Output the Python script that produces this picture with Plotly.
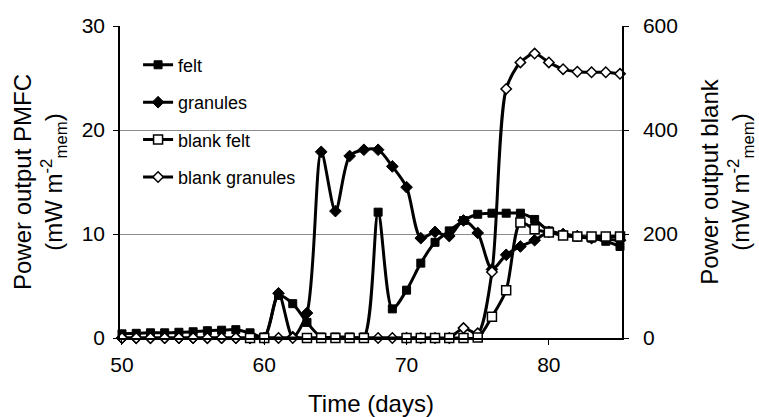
import plotly.graph_objects as go

# Sampling days
days = list(range(50, 86))

# PMFC power output (left axis, mW m-2 membrane)
felt = [0.4, 0.45, 0.5, 0.5, 0.55, 0.6, 0.7, 0.75, 0.8, 0.5,
        0.1, 4.1, 3.3, 1.5, 0.1, 0.1, 0.1, 0.1, 12.1, 2.8,
        4.6, 7.2, 9.2, 10.3, 11.3, 11.9, 12.0, 12.0, 12.0, 11.4,
        10.3, 9.9, 9.7, 9.6, 9.3, 8.8]
granules = [0, 0, 0, 0, 0, 0, 0, 0, 0, 0,
            0, 4.3, 0.1, 2.4, 17.9, 12.2, 17.5, 18.1, 18.1, 16.5,
            14.5, 9.6, 10.2, 9.8, 11.3, 10.1, 6.6, 8.0, 8.8, 9.4,
            10.2, 10.0, 9.8, 9.6, 9.5, 9.4]

# Blank power output (right axis, mW m-2 membrane)
blank_felt_days = [59, 60, 63, 64, 65, 66, 67, 70, 71, 72, 73, 74, 75, 76,
                   77, 78, 79, 80, 81, 82, 83, 84, 85]
blank_felt = [0, 0, 0, 0, 0, 0, 0, 0, 0, 0, 0, 0, 1, 41,
              92, 222, 209, 203, 197, 195, 195, 195, 195]
blank_gran_days = [50, 51, 52, 53, 54, 55, 56, 57, 58, 59, 61, 62,
                   68, 69, 70, 71, 72, 73, 74, 75, 76, 77, 78, 79, 80,
                   81, 82, 83, 84, 85]
blank_granules = [0, 0, 0, 0, 0, 0, 0, 0, 0, 0, 0, 0,
                  0, 0, 0, 0, 0, 0, 19, 9, 127, 479, 530, 547, 530,
                  517, 512, 511, 511, 508]

x_ticks = [50, 60, 70, 80]
left_ticks = [0, 10, 20, 30]
right_ticks = [0, 200, 400, 600]

FONT = "Liberation Sans, Arial, sans-serif"
LINE = dict(color="black", width=3, shape="spline", smoothing=0.8)

fig = go.Figure()
fig.add_trace(go.Scatter(
    x=days, y=felt, name="felt", mode="lines+markers", legendgroup="a",
    legendrank=1, line=LINE, cliponaxis=False,
    marker=dict(symbol="square", size=8, color="black",
                line=dict(color="black", width=1))))
fig.add_trace(go.Scatter(
    x=days, y=granules, name="granules", mode="lines+markers", legendgroup="b",
    legendrank=2, line=LINE, cliponaxis=False,
    marker=dict(symbol="diamond", size=9, color="black",
                line=dict(color="black", width=1))))
# blank granules sits underneath the blank felt squares
fig.add_trace(go.Scatter(
    x=blank_gran_days, y=blank_granules, name="blank granules",
    mode="lines+markers", legendgroup="d", legendrank=4, yaxis="y2",
    line=LINE, cliponaxis=False,
    marker=dict(symbol="diamond", size=8, color="white",
                line=dict(color="black", width=1.5))))
fig.add_trace(go.Scatter(
    x=blank_felt_days, y=blank_felt, name="blank felt", mode="lines+markers",
    legendgroup="c", legendrank=3, yaxis="y2", line=LINE, cliponaxis=False,
    marker=dict(symbol="square", size=9, color="white",
                line=dict(color="black", width=1.5))))

fig.update_layout(
    width=759, height=417,
    margin=dict(l=120, r=137, t=26, b=79),
    paper_bgcolor="white", plot_bgcolor="white",
    font=dict(family=FONT, color="black", size=21),
    showlegend=True,
    legend=dict(x=0.036, y=0.934, xanchor="left", yanchor="top",
                bgcolor="rgba(0,0,0,0)", borderwidth=0,
                font=dict(size=18, family=FONT),
                traceorder="grouped", tracegroupgap=11),
    xaxis=dict(range=[49.86, 85.14], tickvals=x_ticks, automargin=False,
               ticks="outside", ticklen=5, tickcolor="black",
               ticklabelstandoff=2,
               showline=True, linecolor="black", linewidth=1.5,
               showgrid=False, zeroline=False,
               tickfont=dict(size=21),
               title=dict(text="Time (days)", font=dict(size=24), standoff=20)),
    yaxis=dict(range=[0, 30], tickvals=left_ticks, automargin=False,
               ticks="outside", ticklen=5, tickcolor="black",
               ticklabelstandoff=4,
               showline=True, linecolor="black", linewidth=1.5,
               showgrid=True, gridcolor="#8c8c8c", gridwidth=1,
               zeroline=False, tickfont=dict(size=21),
               title=dict(text="Power output PMFC<br>(mW m<sup>-2</sup><sub>mem</sub>)",
                          font=dict(size=24), standoff=12)),
    yaxis2=dict(range=[0, 600], tickvals=right_ticks, overlaying="y",
                automargin=False,
                side="right", ticks="outside", ticklen=5, tickcolor="black",
                ticklabelstandoff=10,
                showline=True, linecolor="black", linewidth=1.5,
                showgrid=False, zeroline=False, tickfont=dict(size=21),
                title=dict(text="Power output blank<br>(mW m<sup>-2</sup><sub>mem</sub>)",
                           font=dict(size=24), standoff=24)),
)

fig.write_html("out.html")
